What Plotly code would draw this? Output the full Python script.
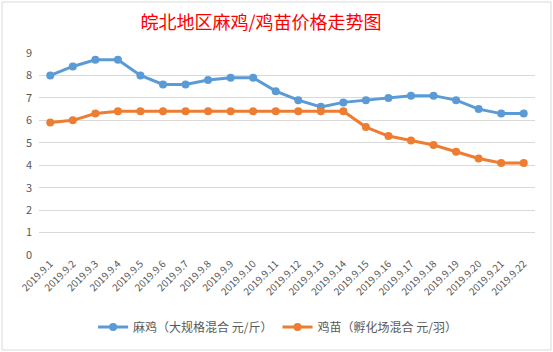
import plotly.graph_objects as go

dates = ["2019.9.%d" % i for i in range(1, 23)]
machicken = [8.0, 8.4, 8.7, 8.7, 8.0, 7.6, 7.6, 7.8, 7.9, 7.9, 7.3, 6.9,
             6.6, 6.8, 6.9, 7.0, 7.1, 7.1, 6.9, 6.5, 6.3, 6.3]
chicks = [5.9, 6.0, 6.3, 6.4, 6.4, 6.4, 6.4, 6.4, 6.4, 6.4, 6.4, 6.4,
          6.4, 6.4, 5.7, 5.3, 5.1, 4.9, 4.6, 4.3, 4.1, 4.1]
name1 = "麻鸡（大规格混合 元/斤）"
name2 = "鸡苗（孵化场混合 元/羽）"
title = "皖北地区麻鸡/鸡苗价格走势图"

FONT = "Noto Sans CJK SC"
GRAY = "#595959"

fig = go.Figure()
fig.add_trace(go.Scatter(x=dates, y=machicken, name=name1, mode="lines+markers",
                         line=dict(color="#5B9BD5", width=3),
                         marker=dict(color="#5B9BD5", size=8)))
fig.add_trace(go.Scatter(x=dates, y=chicks, name=name2, mode="lines+markers",
                         line=dict(color="#ED7D31", width=3),
                         marker=dict(color="#ED7D31", size=8)))

fig.update_layout(
    width=553, height=352,
    margin=dict(l=39, r=18, t=53, b=97),
    paper_bgcolor="white", plot_bgcolor="white",
    font=dict(family=FONT, color=GRAY, size=11),
    title=dict(text=title, font=dict(family=FONT, color="#FF0000", size=18),
               xref="container", x=0.472, xanchor="center",
               yref="container", y=0.935, yanchor="middle"),
    showlegend=True,
    legend=dict(orientation="h", xref="container", x=0.502, xanchor="center",
                yref="container", y=0.071, yanchor="middle",
                font=dict(family=FONT, size=12, color=GRAY), itemwidth=30,
                bgcolor="rgba(0,0,0,0)"),
    xaxis=dict(type="category", range=[-0.5, 21.5], tickangle=-45,
               tickfont=dict(family=FONT, size=10, color=GRAY),
               showgrid=False, showline=False, zeroline=False, ticks=""),
    yaxis=dict(range=[0, 9], dtick=1, tick0=0, showgrid=True, gridcolor="#D9D9D9",
               gridwidth=1, zeroline=False, showline=False,
               tickfont=dict(family=FONT, size=11, color=GRAY), ticklabelstandoff=6),
    shapes=[dict(type="rect", xref="paper", yref="paper",
                 x0=-37/496, x1=(551-39)/496, y0=-(350-255)/202, y1=(255-2)/202,
                 line=dict(color="#D9D9D9", width=1), fillcolor="rgba(0,0,0,0)",
                 layer="below")],
)

fig.write_html("out.html")
